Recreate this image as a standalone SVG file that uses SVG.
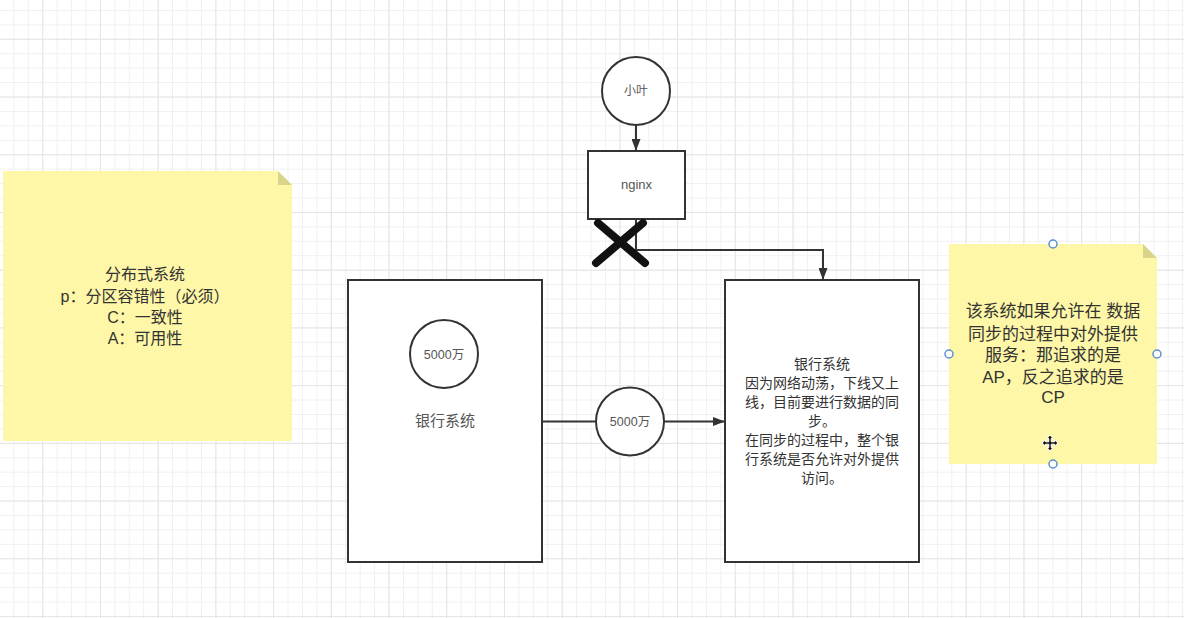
<svg xmlns="http://www.w3.org/2000/svg" width="1184" height="618" viewBox="0 0 1184 618">
<style>
.box{fill:#ffffff;stroke:#333333;stroke-width:2}
.conn{fill:none;stroke:#333333;stroke-width:2}
.lbl{font-family:"Liberation Sans","Noto Sans CJK SC",sans-serif;fill:#555555;text-anchor:middle}
.txt{font-family:"Liberation Sans","Noto Sans CJK SC",sans-serif;fill:#333333;text-anchor:middle}
.note{fill:#fdf7a7}
.fold{fill:#d9d38c}
.handle{fill:#ffffff;stroke:#5b8fd0;stroke-width:1.5}
</style>
<defs>
<pattern id="minor" patternUnits="userSpaceOnUse" x="13.34" y="9.94" width="14.43" height="14.43">
<path d="M0.5 0V14.43M0 0.5H14.43" stroke="#f0f0f0" stroke-width="1" fill="none"/>
</pattern>
<pattern id="major" patternUnits="userSpaceOnUse" x="42.2" y="38.8" width="57.72" height="57.72">
<path d="M0.5 0V57.72M0 0.5H57.72" stroke="#e5e5e5" stroke-width="1" fill="none"/>
</pattern>
<marker id="arrow" viewBox="0 0 12 9" refX="12" refY="4.5" markerWidth="6" markerHeight="4.5" orient="auto" markerUnits="strokeWidth">
<path d="M0 0L12 4.5L0 9z" fill="#333333"/>
</marker>
</defs>
<rect width="1184" height="618" fill="#ffffff"/>
<rect width="1184" height="618" fill="url(#minor)"/>
<rect width="1184" height="618" fill="url(#major)"/>

<g id="note-left">
<path class="note" d="M3 171H278L292 185V441H3z"/>
<path class="fold" d="M278 171L292 185H278z"/>
<text class="txt" font-size="16" x="145" y="280">分布式系统</text>
<text class="txt" font-size="16" x="145" y="302">p：分区容错性（必须）</text>
<text class="txt" font-size="16" x="145" y="323">C：一致性</text>
<text class="txt" font-size="16" x="145" y="344">A：可用性</text>
</g>

<g id="connectors">
<line class="conn" x1="636" y1="125" x2="636" y2="151" marker-end="url(#arrow)"/>
<path class="conn" d="M636 219V250H823V280" marker-end="url(#arrow)"/>
<line class="conn" x1="542" y1="421.5" x2="597" y2="421.5"/>
<line class="conn" x1="664" y1="421.5" x2="725" y2="421.5" marker-end="url(#arrow)"/>
</g>

<g id="xiaoye">
<circle cx="636" cy="91" r="34" class="box"/>
<text class="lbl" font-size="12" x="636" y="95">小叶</text>
</g>

<g id="nginx">
<rect x="588" y="151" width="97" height="68" class="box"/>
<text class="lbl" font-size="13" x="636.5" y="189">nginx</text>
</g>

<g id="cut-mark">
<line x1="598" y1="223" x2="645" y2="263" stroke="#111111" stroke-width="8" stroke-linecap="round"/>
<line x1="643" y1="223" x2="596" y2="263" stroke="#111111" stroke-width="8" stroke-linecap="round"/>
</g>

<g id="bank-left">
<rect x="348" y="280" width="194" height="282" class="box"/>
<text class="lbl" font-size="15" x="445" y="426">银行系统</text>
</g>

<g id="money-left">
<circle cx="444" cy="354" r="34" class="box"/>
<text class="lbl" font-size="12.5" x="444" y="358.5">5000万</text>
</g>

<g id="money-transfer">
<circle cx="630" cy="421.5" r="34" class="box"/>
<text class="lbl" font-size="12.5" x="630" y="426">5000万</text>
</g>

<g id="bank-right">
<rect x="725" y="280" width="194" height="282" class="box"/>
<text class="txt" font-size="14" x="822" y="369">银行系统</text>
<text class="txt" font-size="14" x="822" y="388">因为网络动荡，下线又上</text>
<text class="txt" font-size="14" x="822" y="407">线，目前要进行数据的同</text>
<text class="txt" font-size="14" x="822" y="426">步。</text>
<text class="txt" font-size="14" x="822" y="445">在同步的过程中，整个银</text>
<text class="txt" font-size="14" x="822" y="464">行系统是否允许对外提供</text>
<text class="txt" font-size="14" x="822" y="483">访问。</text>
</g>

<g id="note-right">
<path class="note" d="M949 244H1143L1157 258V464H949z"/>
<path class="fold" d="M1143 244L1157 258H1143z"/>
<text class="txt" font-size="17" x="1053" y="317">该系统如果允许在 数据</text>
<text class="txt" font-size="17" x="1053" y="340">同步的过程中对外提供</text>
<text class="txt" font-size="17" x="1053" y="361">服务：那追求的是</text>
<text class="txt" font-size="17" x="1053" y="383">AP，反之追求的是</text>
<text class="txt" font-size="17" x="1053" y="403">CP</text>
<circle class="handle" cx="1053" cy="244" r="4"/>
<circle class="handle" cx="949" cy="354" r="4"/>
<circle class="handle" cx="1157" cy="354" r="4"/>
<circle class="handle" cx="1053" cy="464" r="4"/>
<g id="cursor" transform="translate(1050 443)">
<path d="M0 -8L3 -4.5H1.2V-1.2H4.5V-3L8 0L4.5 3V1.2H1.2V4.5H3L0 8L-3 4.5H-1.2V1.2H-4.5V3L-8 0L-4.5 -3V-1.2H-1.2V-4.5H-3z" fill="#111111" stroke="#ffffff" stroke-width="1"/>
</g>
</g>
</svg>
